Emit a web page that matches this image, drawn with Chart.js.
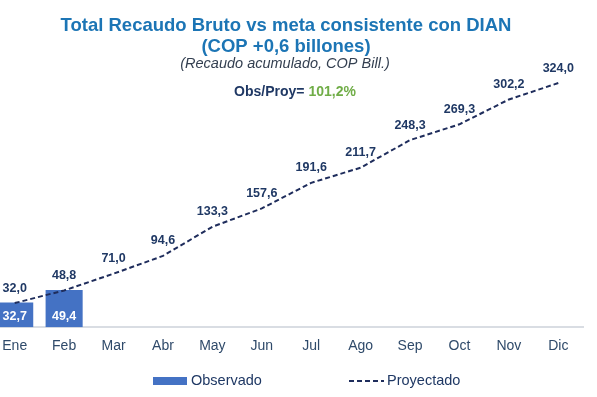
<!DOCTYPE html>
<html>
<head>
<meta charset="utf-8">
<script src="https://cdn.jsdelivr.net/npm/chart.js@4.4.1/dist/chart.umd.min.js"></script>
<style>
    html, body { margin: 0; padding: 0; background: #ffffff; overflow: hidden; }
    #wrap { position: absolute; left: -10px; top: 0; width: 610px; height: 397px; }
</style>
</head>
<body>
<div id="wrap"><canvas id="recaudoChart"></canvas></div>
<script>
const meses = ['Ene', 'Feb', 'Mar', 'Abr', 'May', 'Jun', 'Jul', 'Ago', 'Sep', 'Oct', 'Nov', 'Dic'];
const observado = [32.7, 49.4, null, null, null, null, null, null, null, null, null, null];
const proyectado = [32.0, 48.8, 71.0, 94.6, 133.3, 157.6, 191.6, 211.7, 248.3, 269.3, 302.2, 324.0];
const tituloLineas = ['Total Recaudo Bruto vs meta consistente con DIAN', '(COP +0,6 billones)'];
const subtitulo = '(Recaudo acumulado, COP Bill.)';
const obsProyTexto = 'Obs/Proy= ';
const obsProyValor = '101,2%';

const FUENTE = '"Liberation Sans", Arial, sans-serif';
const DX = 10; // el canvas empieza 10px a la izquierda de la pagina

function formatNumero(v) {
    return v.toFixed(1).replace('.', ',');
}

const etiquetasPlugin = {
    id: 'etiquetas',
    afterDatasetsDraw(chart) {
        const ctx = chart.ctx;
        ctx.save();
        ctx.textAlign = 'center';
        ctx.textBaseline = 'middle';
        ctx.font = 'bold 12.5px ' + FUENTE;

        // etiquetas de la linea proyectada
        const metaLinea = chart.getDatasetMeta(0);
        ctx.fillStyle = '#1F3864';
        metaLinea.data.forEach((p, i) => {
            ctx.fillText(formatNumero(proyectado[i]), p.x, p.y - 15);
        });

        // etiquetas de las barras observadas
        const metaBarras = chart.getDatasetMeta(1);
        const base = chart.scales.y.getPixelForValue(0);
        ctx.fillStyle = '#FFFFFF';
        metaBarras.data.forEach((b, i) => {
            if (observado[i] == null) return;
            ctx.fillText(formatNumero(observado[i]), b.x, base - 11);
        });
        ctx.restore();
    },
    afterDraw(chart) {
        const ctx = chart.ctx;
        ctx.save();
        ctx.textBaseline = 'alphabetic';
        ctx.textAlign = 'center';

        // titulo
        ctx.fillStyle = '#1C75B5';
        ctx.font = 'bold 18.5px ' + FUENTE;
        ctx.fillText(tituloLineas[0], 286 + DX, 31);
        ctx.fillText(tituloLineas[1], 286 + DX, 52);

        ctx.fillStyle = '#333F50';
        ctx.font = 'italic 14.5px ' + FUENTE;
        ctx.fillText(subtitulo, 285 + DX, 68);

        // Obs/Proy
        ctx.font = 'bold 14px ' + FUENTE;
        const w1 = ctx.measureText(obsProyTexto).width;
        const w2 = ctx.measureText(obsProyValor).width;
        const x0 = 295 + DX - (w1 + w2) / 2;
        ctx.textAlign = 'left';
        ctx.fillStyle = '#1F3864';
        ctx.fillText(obsProyTexto, x0, 96);
        ctx.fillStyle = '#70AD47';
        ctx.fillText(obsProyValor, x0 + w1, 96);

        // leyenda
        const dsLinea = chart.data.datasets[0];
        const dsBarras = chart.data.datasets[1];
        ctx.font = '14.5px ' + FUENTE;
        ctx.textBaseline = 'middle';
        ctx.fillStyle = dsBarras.backgroundColor;
        ctx.fillRect(153 + DX, 377, 34, 8);
        ctx.fillStyle = '#1F3864';
        ctx.fillText(dsBarras.label, 191 + DX, 381);

        ctx.strokeStyle = dsLinea.borderColor;
        ctx.lineWidth = dsLinea.borderWidth;
        ctx.setLineDash(dsLinea.borderDash);
        ctx.beginPath();
        ctx.moveTo(349 + DX, 381);
        ctx.lineTo(384 + DX, 381);
        ctx.stroke();
        ctx.setLineDash([]);
        ctx.fillText(dsLinea.label, 387 + DX, 381);
        ctx.restore();
    }
};

function DibujarGrafico() {
    const ctx = document.getElementById('recaudoChart');
    new Chart(ctx, {
        data: {
            labels: meses,
            datasets: [
                {
                    type: 'line',
                    label: 'Proyectado',
                    data: proyectado,
                    borderColor: '#1F2D5C',
                    borderWidth: 2,
                    borderDash: [5, 3],
                    pointRadius: 0,
                    tension: 0,
                    fill: false,
                    order: 0
                },
                {
                    type: 'bar',
                    label: 'Observado',
                    data: observado,
                    backgroundColor: '#4472C4',
                    borderWidth: 0,
                    categoryPercentage: 0.75,
                    barPercentage: 1,
                    order: 1
                }
            ]
        },
        options: {
            responsive: true,
            maintainAspectRatio: false,
            animation: false,
            layout: {
                padding: { top: 71, right: 17, left: 0, bottom: 39 }
            },
            plugins: {
                legend: { display: false },
                title: { display: false },
                tooltip: { enabled: false }
            },
            scales: {
                x: {
                    grid: { display: false },
                    border: { display: true, color: '#D9DDE3', width: 2 },
                    ticks: {
                        color: '#2F4A6A',
                        font: { family: FUENTE, size: 14 }
                    }
                },
                y: {
                    display: false,
                    min: 0,
                    max: 340
                }
            }
        },
        plugins: [etiquetasPlugin]
    });
}
DibujarGrafico();
</script>
</body>
</html>
